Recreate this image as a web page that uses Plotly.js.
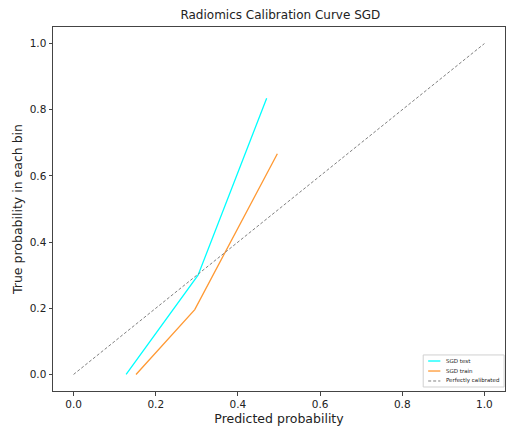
<!DOCTYPE html>
<html>
<head>
<meta charset="utf-8">
<script src="https://cdn.plot.ly/plotly-3.0.1.min.js"></script>
<style>html,body{margin:0;padding:0;background:#fff;}#chart{width:507px;height:426px;}</style>
</head>
<body>
<div id="chart"></div>
<script>
const testX = [0.128, 0.303, 0.470];
const testY = [0.0, 0.300, 0.835];
const trainX = [0.152, 0.295, 0.496];
const trainY = [0.0, 0.196, 0.667];
const refX = [0, 1];
const refY = [0, 1];
const tickVals = [0, 0.2, 0.4, 0.6, 0.8, 1.0];
const tickText = ["0.0", "0.2", "0.4", "0.6", "0.8", "1.0"];
const seriesNames = ['SGD test', 'SGD train', 'Perfectly calibrated'];
const seriesColors = ['#00ffff', '#ff9933', '#808080'];
const seriesDash = ['solid', 'solid', '3px,2px'];

const traces = [
  {x: testX, y: testY, mode: 'lines', name: seriesNames[0], line: {color: seriesColors[0], width: 1.3}},
  {x: trainX, y: trainY, mode: 'lines', name: seriesNames[1], line: {color: seriesColors[1], width: 1.3}},
  {x: refX, y: refY, mode: 'lines', name: seriesNames[2], line: {color: seriesColors[2], width: 1, dash: seriesDash[2]}}
];
const axisCommon = {
  range: [-0.05, 1.05], tickvals: tickVals, ticktext: tickText,
  showgrid: false, zeroline: false, showline: true, mirror: true,
  linecolor: '#444', linewidth: 1, ticks: 'outside', ticklen: 3.5, tickcolor: '#444',
  tickfont: {family: 'DejaVu Sans', size: 10.5, color: '#222'}
};

// custom legend (paper coords of plot area)
const legBox = {x0: 0.819, x1: 0.998, y0: 0.011, y1: 0.099};
const rowY = [0.0824, 0.0549, 0.0275];
const shapes = [{type: 'rect', xref: 'paper', yref: 'paper', x0: legBox.x0, x1: legBox.x1, y0: legBox.y0, y1: legBox.y1,
  line: {color: '#d0d0d0', width: 1}, fillcolor: '#fff', layer: 'above'}];
const annotations = [];
seriesNames.forEach((n, i) => {
  shapes.push({type: 'line', xref: 'paper', yref: 'paper', x0: 0.830, x1: 0.857, y0: rowY[i], y1: rowY[i],
    line: {color: seriesColors[i], width: i === 2 ? 1 : 1.3, dash: seriesDash[i]}, layer: 'above'});
  annotations.push({xref: 'paper', yref: 'paper', x: 0.866, y: rowY[i], xanchor: 'left', yanchor: 'middle',
    text: n, showarrow: false, font: {family: 'DejaVu Sans', size: 5.5, color: '#222'}});
});

const layout = {
  width: 507, height: 426,
  margin: {l: 53, r: 2, t: 27, b: 35},
  paper_bgcolor: '#fff', plot_bgcolor: '#fff',
  title: {text: 'Radiomics Calibration Curve SGD', font: {family: 'DejaVu Sans', size: 12, color: '#222'}, x: 0.553, xanchor: 'center', y: 0.965, yanchor: 'middle'},
  xaxis: Object.assign({}, axisCommon, {title: {text: 'Predicted probability', font: {family: 'DejaVu Sans', size: 12.5, color: '#222'}, standoff: 6}}),
  yaxis: Object.assign({}, axisCommon, {title: {text: 'True probability in each bin', font: {family: 'DejaVu Sans', size: 12.5, color: '#222'}, standoff: 4}}),
  showlegend: false,
  shapes: shapes,
  annotations: annotations
};
Plotly.newPlot('chart', traces, layout, {displayModeBar: false, staticPlot: true});
</script>
</body>
</html>
